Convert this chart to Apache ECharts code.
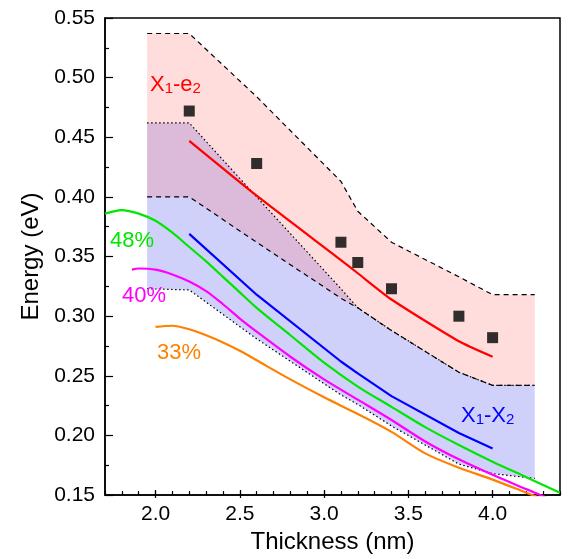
<!DOCTYPE html>
<html>
<head>
<meta charset="utf-8">
<script src="https://cdn.jsdelivr.net/npm/echarts@6/dist/echarts.min.js"></script>
<style>
  html, body { margin: 0; padding: 0; background: #fff; }
  #chart { width: 570px; height: 559px; }
</style>
</head>
<body>
<div id="chart"></div>
<script>
// thickness points where the shaded bands are given
var bandX   = [1.95, 2.2, 2.6, 3.1, 3.2, 3.4, 3.8, 4.0, 4.25];
var e2Upper = [0.537, 0.537, 0.484, 0.413, 0.388, 0.362, 0.333, 0.318, 0.318];
var e2Lower = [0.400, 0.400, 0.362, 0.315, 0.307, 0.288, 0.253, 0.242, 0.242];
var x2Upper = [0.462, 0.462, 0.400, 0.323, 0.307, 0.288, 0.253, 0.242, 0.242];
var x2Lower = [0.323, 0.322, 0.281, 0.234, 0.226, 0.208, 0.176, 0.168, 0.164];

// measured points and calculated transitions
var thickness = [2.2, 2.6, 3.1, 3.2, 3.4, 3.8, 4.0];
var measured  = [0.472, 0.428, 0.362, 0.345, 0.323, 0.300, 0.282];
var calcE2    = [0.447, 0.401, 0.347, 0.336, 0.314, 0.279, 0.266];
var calcX2    = [0.369, 0.318, 0.262, 0.252, 0.233, 0.202, 0.189];

// composition curves
var c48X = [1.7, 1.8, 1.9, 2.0, 2.1, 2.2, 2.3, 2.4, 2.5, 2.6, 2.8, 3.0, 3.2, 3.4, 3.6, 3.8, 4.0, 4.2, 4.4];
var c48Y = [0.386, 0.389, 0.386, 0.380, 0.370, 0.358, 0.346, 0.333, 0.320, 0.307, 0.284, 0.261, 0.241, 0.224, 0.207, 0.192, 0.178, 0.165, 0.152];
var c40X = [1.86, 1.9, 2.0, 2.1, 2.2, 2.3, 2.4, 2.5, 2.6, 2.8, 3.0, 3.2, 3.4, 3.6, 3.8, 4.0, 4.2, 4.4];
var c40Y = [0.339, 0.340, 0.339, 0.335, 0.329, 0.321, 0.310, 0.298, 0.287, 0.266, 0.247, 0.230, 0.213, 0.195, 0.180, 0.167, 0.155, 0.143];
var c33X = [2.0, 2.1, 2.2, 2.3, 2.4, 2.5, 2.6, 2.8, 3.0, 3.2, 3.4, 3.6, 3.8, 4.0, 4.2, 4.4];
var c33Y = [0.291, 0.292, 0.289, 0.284, 0.278, 0.271, 0.263, 0.247, 0.232, 0.218, 0.203, 0.185, 0.173, 0.163, 0.152, 0.141];

// tick labels
var xMajor = [2.0, 2.5, 3.0, 3.5, 4.0];

var FONT = 'Arial, "Liberation Sans", sans-serif';

function zip(xs, ys) {
  return xs.map(function (x, i) { return [x, ys[i]]; });
}

// filled band between two boundaries, drawn through the axes
function band(upper, lower, fill, z) {
  return {
    type: 'custom',
    coordinateSystem: 'cartesian2d',
    silent: true,
    z: z,
    data: [[bandX[0], upper[0]]],
    renderItem: function (params, api) {
      var top = bandX.map(function (x, i) { return api.coord([x, upper[i]]); });
      var bot = bandX.map(function (x, i) { return api.coord([x, lower[i]]); }).reverse();
      return {
        type: 'polygon',
        shape: { points: top.concat(bot) },
        style: { fill: fill }
      };
    }
  };
}

function edge(ys, type) {
  return {
    type: 'line',
    data: zip(bandX, ys),
    symbol: 'none',
    silent: true,
    z: 3,
    lineStyle: { color: '#000', width: 1.2, type: type }
  };
}

function curve(xs, ys, color, smooth) {
  return {
    type: 'line',
    data: zip(xs, ys),
    symbol: 'none',
    smooth: smooth,
    silent: true,
    z: 4,
    lineStyle: { color: color, width: 2.2 }
  };
}

var myChart = echarts.init(document.getElementById('chart'));

var sub = { fontSize: 15, lineHeight: 14, padding: [17, 0, 0, 0], verticalAlign: 'bottom', fontFamily: FONT };
var tickLine = { color: '#000', width: 1.2 };

var option = {
  animation: false,
  backgroundColor: '#fff',
  grid: {
    left: 105, right: 10, top: 18, bottom: 61,
    show: true, borderColor: '#000', borderWidth: 1.5, backgroundColor: 'transparent'
  },
  xAxis: [{
    type: 'value',
    min: 1.7, max: 4.4, interval: 0.1,
    name: 'Thickness (nm)',
    nameLocation: 'middle',
    nameGap: 30,
    nameTextStyle: { color: '#000', fontSize: 24, fontFamily: FONT },
    splitLine: { show: false },
    axisLine: { lineStyle: { color: '#000', width: 1.5 } },
    axisTick: { inside: true, length: 4, lineStyle: tickLine },
    axisLabel: {
      customValues: xMajor,
      margin: 9,
      color: '#000', fontSize: 21, fontFamily: FONT,
      formatter: function (v) { return v.toFixed(1); }
    }
  }, {
    // longer ticks at the labels: a top axis moved down so they point into the plot
    type: 'value',
    position: 'top',
    offset: -480,
    min: 1.7, max: 4.4,
    splitLine: { show: false },
    axisLine: { show: false },
    axisLabel: { show: false },
    axisTick: { customValues: xMajor, inside: false, length: 8, lineStyle: tickLine }
  }],
  yAxis: {
    type: 'value',
    min: 0.15, max: 0.55, interval: 0.05,
    name: 'Energy (eV)',
    nameLocation: 'middle',
    nameGap: 62,
    nameTextStyle: { color: '#000', fontSize: 24, fontFamily: FONT },
    splitLine: { show: false },
    axisLine: { lineStyle: { color: '#000', width: 1.5 } },
    axisTick: { inside: true, length: 8, lineStyle: tickLine },
    minorTick: { show: true, splitNumber: 2, length: 4, lineStyle: tickLine },
    axisLabel: {
      margin: 10,
      color: '#000', fontSize: 21, fontFamily: FONT,
      formatter: function (v) { return v.toFixed(2); }
    }
  },
  series: [
    band(x2Upper, x2Lower, 'rgb(207,209,251)', 1),
    band(e2Upper, e2Lower, 'rgba(255,119,119,0.25)', 2),
    edge(e2Upper, [5, 4]),
    edge(e2Lower, [5, 4]),
    edge(x2Upper, [1.5, 2.5]),
    edge(x2Lower, [1.5, 2.5]),
    curve(c33X, c33Y, '#ff8000', 0.3),
    curve(c40X, c40Y, '#ff00ff', 0.3),
    curve(c48X, c48Y, '#00e600', 0.3),
    curve(thickness, calcX2, '#0000ff', false),
    curve(thickness, calcE2, '#ff0000', 0.2),
    {
      type: 'scatter',
      data: zip(thickness, measured),
      symbol: 'rect',
      symbolSize: 11,
      silent: true,
      z: 5,
      itemStyle: { color: '#000' }
    }
  ],
  graphic: [
    {
      type: 'text', left: 150, top: 64, z: 10,
      style: {
        text: '{m|X}{s|1}{m|-e}{s|2}',
        fill: '#ff0000',
        rich: { m: { fontSize: 22, lineHeight: 22, verticalAlign: 'top', fontFamily: FONT, fill: '#ff0000' }, s: Object.assign({ fill: '#ff0000' }, sub) }
      }
    },
    {
      type: 'text', left: 461, top: 395, z: 10,
      style: {
        text: '{m|X}{s|1}{m|-X}{s|2}',
        fill: '#0000ff',
        rich: { m: { fontSize: 22, lineHeight: 22, verticalAlign: 'top', fontFamily: FONT, fill: '#0000ff' }, s: Object.assign({ fill: '#0000ff' }, sub) }
      }
    },
    { type: 'text', left: 110, top: 230, z: 10, style: { text: '48%', fill: '#00e600', fontSize: 22, fontFamily: FONT } },
    { type: 'text', left: 122, top: 285, z: 10, style: { text: '40%', fill: '#ff00ff', fontSize: 22, fontFamily: FONT } },
    { type: 'text', left: 157, top: 342, z: 10, style: { text: '33%', fill: '#ff8000', fontSize: 22, fontFamily: FONT } }
  ]
};

myChart.setOption(option);
</script>
</body>
</html>
